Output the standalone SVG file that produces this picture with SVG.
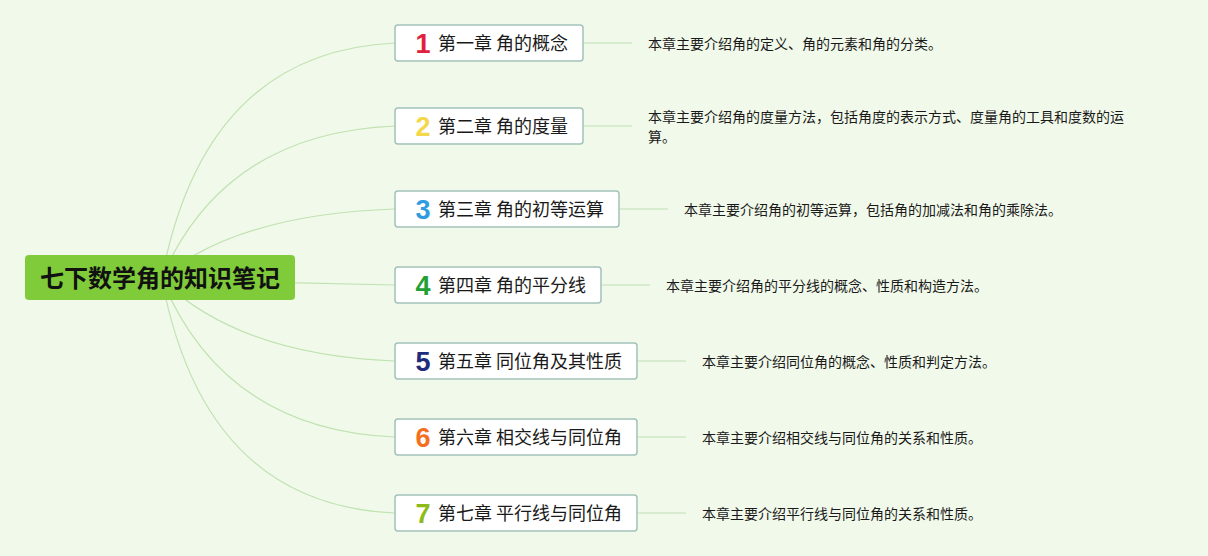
<svg xmlns="http://www.w3.org/2000/svg" width="1208" height="556" viewBox="0 0 1208 556">
<style>
.bg{fill:#f1f9ea}
.box{fill:#ffffff;stroke:#a3c2bb;stroke-width:1.5}
.ttl{font-family:"Noto Sans CJK SC","Noto Sans",sans-serif;font-size:18px;fill:#1a1a1a}
.num{font-family:"Liberation Sans",Arial,sans-serif;font-weight:bold;font-size:27px;text-anchor:middle}
.desc{font-family:"Noto Sans CJK SC","Noto Sans",sans-serif;font-size:14px;fill:#1a1a1a}
.c{fill:none;stroke:#bfe2b0;stroke-width:1.2}
.d{fill:none;stroke:#cfe8c6;stroke-width:1.5}
</style>
<rect class="bg" x="0" y="0" width="1208" height="556"/>
<g id="connectors">
<path class="c" d="M162,277 Q205,52 395,43"/>
<path class="c" d="M162,277 Q225,133 395,126"/>
<path class="c" d="M162,277 Q240,214 395,209"/>
<path class="c" d="M162,280 L395,285"/>
<path class="c" d="M162,280 Q240,355 395,361"/>
<path class="c" d="M162,280 Q225,430 395,437"/>
<path class="c" d="M162,280 Q205,505 395,513"/>
<path class="d" d="M583,43 H632"/>
<path class="d" d="M583,126 H632"/>
<path class="d" d="M619,209 H668"/>
<path class="d" d="M601,285 H650"/>
<path class="d" d="M637,361 H686"/>
<path class="d" d="M637,437 H686"/>
<path class="d" d="M637,513 H686"/>
</g>
<g id="root">
<rect x="25" y="255" width="270" height="45" rx="4" fill="#7fcb3a"/>
<text x="160" y="286.5" text-anchor="middle" font-family="'Noto Sans CJK SC','Noto Sans',sans-serif" font-weight="bold" font-size="24" fill="#111">七下数学角的知识笔记</text>
</g>
<g id="ch1">
<rect class="box" x="395" y="25" width="188" height="36" rx="3"/>
<text class="num" x="423" y="53" fill="#e0203c">1</text>
<text class="ttl" x="438" y="49.5">第一章 角的概念</text>
</g>
<g id="ch2">
<rect class="box" x="395" y="108" width="188" height="36" rx="3"/>
<text class="num" x="423" y="136" fill="#f3d84c">2</text>
<text class="ttl" x="438" y="132.5">第二章 角的度量</text>
</g>
<g id="ch3">
<rect class="box" x="395" y="191" width="224" height="36" rx="3"/>
<text class="num" x="423" y="219" fill="#2e9ce0">3</text>
<text class="ttl" x="438" y="215.5">第三章 角的初等运算</text>
</g>
<g id="ch4">
<rect class="box" x="395" y="267" width="206" height="36" rx="3"/>
<text class="num" x="423" y="295" fill="#23a033">4</text>
<text class="ttl" x="438" y="291.5">第四章 角的平分线</text>
</g>
<g id="ch5">
<rect class="box" x="395" y="343" width="242" height="36" rx="3"/>
<text class="num" x="423" y="371" fill="#1f2c7c">5</text>
<text class="ttl" x="438" y="367.5">第五章 同位角及其性质</text>
</g>
<g id="ch6">
<rect class="box" x="395" y="419" width="242" height="36" rx="3"/>
<text class="num" x="423" y="447" fill="#f37021">6</text>
<text class="ttl" x="438" y="443.5">第六章 相交线与同位角</text>
</g>
<g id="ch7">
<rect class="box" x="395" y="495" width="242" height="36" rx="3"/>
<text class="num" x="423" y="523" fill="#8cbb1a">7</text>
<text class="ttl" x="438" y="519.5">第七章 平行线与同位角</text>
</g>
<g id="desc1"><text class="desc" x="648" y="48.5">本章主要介绍角的定义、角的元素和角的分类。</text></g>
<g id="desc2"><text class="desc" x="648" y="121.5">本章主要介绍角的度量方法，包括角度的表示方式、度量角的工具和度数的运</text><text class="desc" x="648" y="141.5">算。</text></g>
<g id="desc3"><text class="desc" x="684" y="214.5">本章主要介绍角的初等运算，包括角的加减法和角的乘除法。</text></g>
<g id="desc4"><text class="desc" x="666" y="290.5">本章主要介绍角的平分线的概念、性质和构造方法。</text></g>
<g id="desc5"><text class="desc" x="702" y="366.5">本章主要介绍同位角的概念、性质和判定方法。</text></g>
<g id="desc6"><text class="desc" x="702" y="442.5">本章主要介绍相交线与同位角的关系和性质。</text></g>
<g id="desc7"><text class="desc" x="702" y="518.5">本章主要介绍平行线与同位角的关系和性质。</text></g>
</svg>
